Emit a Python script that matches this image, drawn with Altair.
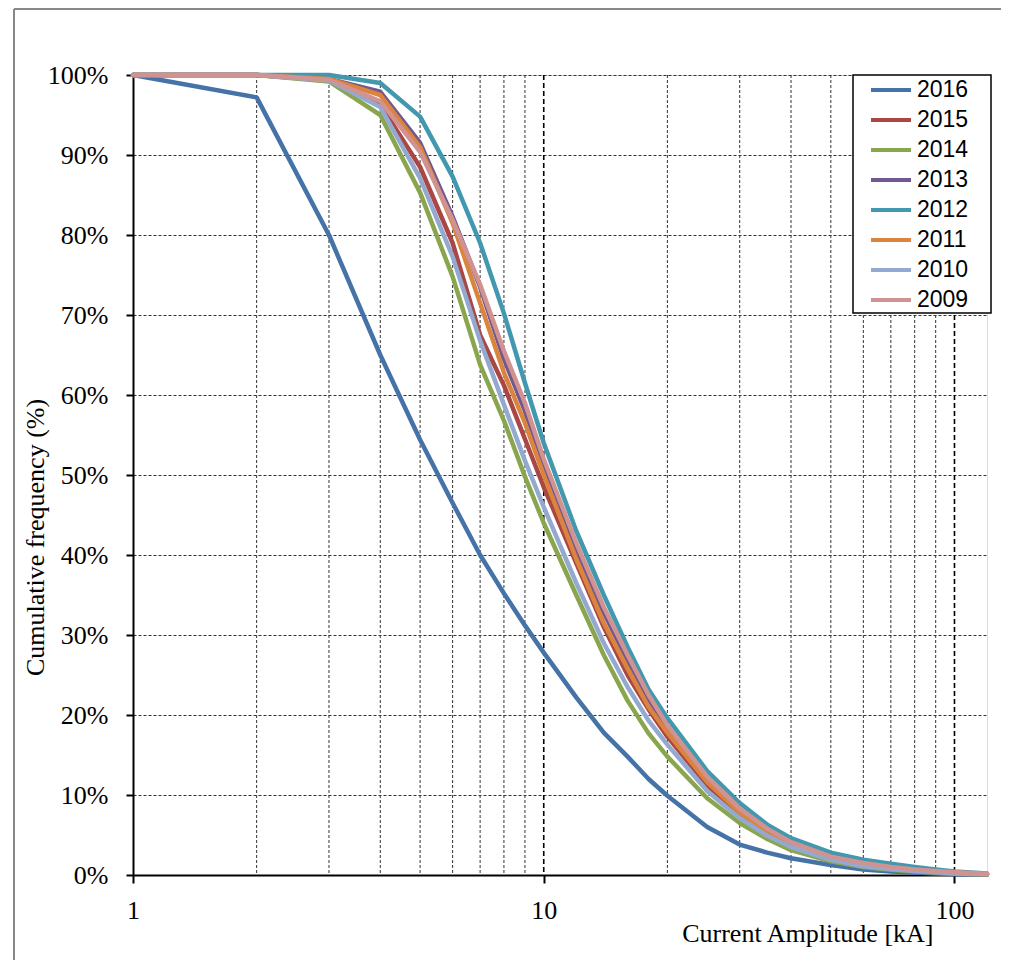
import altair as alt
import pandas as pd

# ---- data ----
amps = [1, 2, 3, 4, 5, 6, 7, 8, 9, 10, 12, 14, 16, 18, 20, 25, 30, 35, 40, 50, 60, 70, 80, 90, 100, 120]

y2016 = [100, 97.2, 80, 65, 54.4, 46.5, 40, 35.2, 31.2, 27.8, 22.2, 17.8, 14.8, 12.0, 9.9, 6.0, 3.8, 2.8, 2.1, 1.25, 0.7, 0.45, 0.3, 0.2, 0.1, 0.05]
y2015 = [100, 100, 99.3, 96.3, 88.5, 79, 67.5, 61.2, 54.5, 48.5, 39, 31, 25, 20.7, 17.3, 11.2, 7.5, 5.2, 3.7, 2.0, 1.2, 0.8, 0.55, 0.4, 0.25, 0.1]
y2014 = [100, 100, 99.2, 95, 85.3, 74.8, 63.8, 56.8, 49.8, 44, 35, 27.5, 21.8, 17.7, 14.8, 9.6, 6.5, 4.5, 3.1, 1.7, 1.0, 0.65, 0.45, 0.3, 0.2, 0.05]
y2013 = [100, 100, 99.5, 97.9, 91.5, 82.3, 73.5, 64.5, 58, 51, 40.5, 32.8, 26.8, 22, 18.3, 12, 8.1, 5.6, 4.0, 2.3, 1.4, 0.95, 0.65, 0.45, 0.3, 0.1]
y2012 = [100, 100, 100, 99, 94.8, 87.3, 79, 70.2, 61.5, 54, 43, 35, 28.5, 23.2, 19.6, 13, 9, 6.3, 4.6, 2.8, 1.9, 1.4, 1.0, 0.7, 0.45, 0.2]
y2011 = [100, 100, 99.5, 97.5, 91, 81.5, 71.5, 62.8, 56.5, 50, 39.5, 31.5, 25.8, 21, 17.8, 11.6, 7.8, 5.4, 3.8, 2.1, 1.3, 0.9, 0.6, 0.4, 0.3, 0.1]
y2010 = [100, 100, 99.3, 96, 87.1, 77.3, 66.8, 58.8, 51.8, 46, 36.5, 29, 23.5, 19.3, 16.3, 10.5, 7.1, 4.9, 3.5, 1.9, 1.1, 0.75, 0.5, 0.35, 0.2, 0.1]
y2009 = [100, 100, 99.4, 96.7, 90.4, 81.9, 73.8, 65.5, 59, 52, 41.5, 33.5, 27.5, 22.5, 18.7, 12.3, 8.3, 5.8, 4.1, 2.3, 1.5, 1.0, 0.7, 0.5, 0.35, 0.15]

years = ["2016", "2015", "2014", "2013", "2012", "2011", "2010", "2009"]
series = [y2016, y2015, y2014, y2013, y2012, y2011, y2010, y2009]
colors = ["#4572A7", "#AA4643", "#89A54E", "#71588F", "#4198AF", "#DB843D", "#93A9CF", "#D19392"]

minor_grid = [2, 3, 4, 5, 6, 7, 8, 9, 20, 30, 40, 50, 60, 70, 80, 90]
major_grid = [10, 100]
x_ticks = [1, 10, 100]
y_ticks = [0, 10, 20, 30, 40, 50, 60, 70, 80, 90, 100]

rows = []
for yr, vals in zip(years, series):
    for a, v in zip(amps, vals):
        rows.append({"amp": a, "pct": v, "year": yr})
df = pd.DataFrame(rows)

W, H = 854, 800
SERIF = "Liberation Serif"

xscale = alt.Scale(type="log", domain=[1, 120], nice=False)
yscale = alt.Scale(domain=[0, 100], nice=False)

x_axis = alt.Axis(
    values=x_ticks, format="d", grid=False,
    title="Current Amplitude [kA]",
    titleX=800, titleY=66, titleAlign="right", titleBaseline="alphabetic",
    titleFont=SERIF, titleFontSize=26, titleFontWeight="normal", titleColor="#000",
    labelFont=SERIF, labelFontSize=26, labelColor="#000", labelPadding=14,
    tickSize=8, tickWidth=2, tickColor="#000",
    domainColor="#000", domainWidth=2, labelFlush=False, labelOverlap=False,
)

minor = alt.Chart(pd.DataFrame({"g": minor_grid})).mark_rule(
    color="#333333", strokeWidth=1, strokeDash=[3, 2]
).encode(x=alt.X("g:Q", scale=xscale, axis=x_axis, title="Current Amplitude [kA]"))

major = alt.Chart(pd.DataFrame({"g": major_grid})).mark_rule(
    color="#000000", strokeWidth=1.6, strokeDash=[5, 3]
).encode(x=alt.X("g:Q", scale=xscale, axis=x_axis, title="Current Amplitude [kA]"))

lines = alt.Chart(df).mark_line(strokeWidth=4.5, strokeJoin="round", strokeCap="round").encode(
    x=alt.X("amp:Q", scale=xscale, axis=x_axis, title="Current Amplitude [kA]"),
    y=alt.Y(
        "pct:Q",
        scale=yscale,
        axis=alt.Axis(
            values=y_ticks, labelExpr="datum.value + '%'",
            grid=True, gridColor="#333333", gridDash=[3, 2], gridWidth=1,
            title="Cumulative frequency (%)",
            titleX=-98, titleY=462, titleAngle=270, titleAlign="center", titleBaseline="middle",
            titleFont=SERIF, titleFontSize=26, titleFontWeight="normal", titleColor="#000",
            labelFont=SERIF, labelFontSize=26, labelColor="#000", labelPadding=18,
            tickSize=7, tickWidth=2, tickColor="#000",
            domainColor="#000", domainWidth=2, labelFlush=False, labelOverlap=False,
        ),
    ),
    color=alt.Color(
        "year:N",
        scale=alt.Scale(domain=years, range=colors),
        sort=years,
        legend=alt.Legend(
            orient="none", legendX=731, legendY=0, title=None,
            symbolType="stroke", symbolSize=1600, symbolStrokeWidth=4,
            clipHeight=20, rowPadding=7, padding=5,
            labelFont="Liberation Sans", labelFontSize=23, labelColor="#000", labelOffset=4,
        ),
    ),
    order=alt.Order("amp:Q"),
)

legend_box = alt.Chart(pd.DataFrame({"k": [0]})).mark_rect(
    fill="white", stroke="black", strokeWidth=1.5
).encode(x=alt.value(720), x2=alt.value(858), y=alt.value(0), y2=alt.value(238))

frame_left = alt.Chart(pd.DataFrame({"k": [0]})).mark_rule(color="#888888", strokeWidth=2).encode(
    x=alt.value(-119), y=alt.value(-66), y2=alt.value(900)
)
frame_top = alt.Chart(pd.DataFrame({"k": [0]})).mark_rule(color="#888888", strokeWidth=2).encode(
    x=alt.value(-119), x2=alt.value(880), y=alt.value(-66)
)

chart = alt.layer(minor, major, lines, legend_box, frame_left, frame_top).properties(
    width=W, height=H,
    padding={"left": 125, "top": 67, "right": 14, "bottom": 85},
    autosize=alt.AutoSizeParams(type="none"),
).configure_view(stroke="black", strokeWidth=2).configure(background="white")

chart.save("out.html", embed_options={"renderer": "svg", "actions": False})
